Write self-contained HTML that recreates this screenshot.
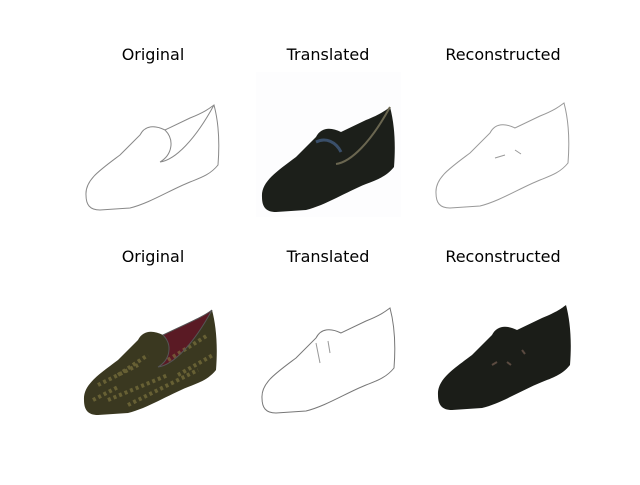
<!DOCTYPE html>
<html><head><meta charset="utf-8"><style>
body{margin:0;background:#fff;width:640px;height:480px;overflow:hidden}
text{font-family:"DejaVu Sans","Liberation Sans",sans-serif;font-size:16px;fill:#000}
</style></head><body>
<svg width="640" height="480" viewBox="0 0 640 480">
<defs>
<path id="shoe" d="M6,125 C5,110 20,100 40,85 L60,65 C65,55 75,55 85,60 L110,48 C125,42 130,38 134,35 C138,50 140,70 138,95 C130,105 120,108 110,112 C90,120 70,133 50,138 L20,140 C10,140 6,135 6,125 Z"/>
<path id="opening" d="M85,60 C95,70 92,85 80,92 C95,90 115,70 134,35 C125,42 110,48 85,60 Z"/>
</defs>
<text x="153" y="60" text-anchor="middle">Original</text>
<text x="328" y="60" text-anchor="middle">Translated</text>
<text x="503" y="60" text-anchor="middle">Reconstructed</text>
<text x="153" y="262" text-anchor="middle">Original</text>
<text x="328" y="262" text-anchor="middle">Translated</text>
<text x="503" y="262" text-anchor="middle">Reconstructed</text>

<g transform="translate(80,70)">
<use href="#shoe" fill="none" stroke="#888" stroke-width="1"/>
<path d="M85,60 C95,70 92,85 80,92 M80,92 C95,90 115,70 134,35" fill="none" stroke="#888" stroke-width="1"/>
</g>
<g transform="translate(256,72)">
<rect x="0" y="0" width="145" height="145" fill="#fdfdfe"/>
<use href="#shoe" fill="#1c1f1a"/>
<path d="M80,92 C95,90 115,70 134,35" fill="none" stroke="#6a6650" stroke-width="2"/>
<path d="M60,70 C70,65 80,70 85,80" fill="none" stroke="#3a4f6a" stroke-width="3"/>
</g>
<g transform="translate(430,68)">
<use href="#shoe" fill="none" stroke="#999" stroke-width="1"/>
<path d="M65,90 l10,-3 M85,82 l6,4" stroke="#999" fill="none"/>
</g>

<g transform="translate(78,275)">
<use href="#shoe" fill="#3a3820"/>
<use href="#opening" fill="#5a1a24"/>
<path d="M20,110 L60,90 M30,125 L90,100 M50,130 L120,95 M40,100 L70,80 M15,125 L40,112 M90,85 L130,60 M100,100 L135,80" stroke="#857c42" stroke-width="4" stroke-dasharray="3 3" opacity="0.6"/>
<use href="#opening" fill="none" stroke="#555" stroke-width="1"/>
</g>
<g transform="translate(256,273)">
<use href="#shoe" fill="none" stroke="#777" stroke-width="1"/>
<path d="M60,70 l4,20 M72,68 l2,12" stroke="#999" fill="none"/>
</g>
<g transform="translate(432,270)">
<use href="#shoe" fill="#1b1d18"/>
<path d="M60,95 l5,-3 M75,92 l4,3 M90,80 l3,4" stroke="#5a4a40" stroke-width="2"/>
</g>
</svg>
</body></html>
